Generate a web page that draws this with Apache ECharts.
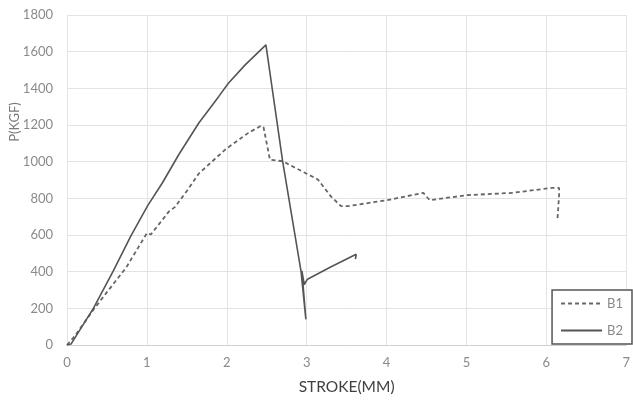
<!DOCTYPE html>
<html>
<head>
<meta charset="utf-8">
<script src="https://cdn.jsdelivr.net/npm/echarts@6/dist/echarts.min.js"></script>
<style>
  html, body { margin: 0; padding: 0; background: #ffffff; }
  #chart { width: 633px; height: 400px; }
</style>
</head>
<body>
<div id="chart"></div>
<script>
// Load-stroke curves for two specimens: [stroke (mm), load (kgf)]
const seriesNames = ['B1', 'B2'];

const b1Points = [
  [0, 0], [0.1, 50], [0.33, 192], [0.53, 305], [0.74, 422], [1.0, 610],
  [1.05, 603], [1.28, 730], [1.35, 752], [1.5, 840], [1.65, 935],
  [1.98, 1066], [2.27, 1157], [2.43, 1196], [2.46, 1188], [2.54, 1011],
  [2.70, 1002], [3.14, 903], [3.30, 812], [3.43, 757], [3.51, 757],
  [3.84, 779], [4.01, 790], [4.46, 830], [4.54, 790], [5.0, 817],
  [5.58, 830], [6.07, 857], [6.16, 857], [6.16, 821], [6.14, 689]
];

const b2Points = [
  [0, 0], [0.05, 5], [0.33, 200], [0.575, 400], [0.80, 595], [1.01, 760],
  [1.195, 885], [1.40, 1039], [1.65, 1211], [1.90, 1356], [2.02, 1428],
  [2.23, 1528], [2.49, 1637], [2.70, 1000], [2.93, 400], [2.99, 140],
  [2.94, 404], [2.97, 330], [3.01, 359], [3.30, 425], [3.62, 495],
  [3.61, 468]
];

const xTicks = { min: 0, max: 7, step: 1 };
const yTicks = { min: 0, max: 1800, step: 200 };

const xTitle = 'STROKE(MM)';
const yTitle = 'P(KGF)';

const chart = echarts.init(document.getElementById('chart'), null, { renderer: 'canvas' });

const labelStyle = { color: '#8a8a8a', fontSize: 13, fontFamily: 'Lato' };
const gridLine = { show: true, lineStyle: { color: '#e3e3e3', width: 1 } };

chart.setOption({
  animation: false,
  backgroundColor: '#ffffff',
  textStyle: { fontFamily: 'Lato' },
  grid: { left: 67, right: 2, top: 15, bottom: 54, containLabel: false },
  xAxis: {
    type: 'value',
    min: xTicks.min, max: xTicks.max, interval: xTicks.step,
    name: xTitle,
    nameLocation: 'middle',
    nameGap: 34,
    nameTextStyle: { color: '#404040', fontSize: 15.5, fontFamily: 'Lato' },
    axisLine: { show: true, lineStyle: { color: '#d0d0d0', width: 1 } },
    axisTick: { show: false },
    axisLabel: Object.assign({ margin: 11, formatter: v => String(v) }, labelStyle),
    splitLine: gridLine
  },
  yAxis: {
    type: 'value',
    min: yTicks.min, max: yTicks.max, interval: yTicks.step,
    axisLine: { show: false },
    axisTick: { show: false },
    axisLabel: Object.assign({ margin: 14, formatter: v => String(v) }, labelStyle),
    splitLine: gridLine
  },
  graphic: [{
    type: 'text',
    x: 15,
    y: 122,
    rotation: Math.PI / 2,
    style: {
      text: yTitle,
      fill: '#7a7a7a',
      font: '13px Lato',
      align: 'center',
      verticalAlign: 'middle'
    }
  }],
  legend: {
    orient: 'vertical',
    right: 1,
    bottom: 56,
    padding: [7, 9, 7, 8],
    itemWidth: 41,
    itemHeight: 14,
    itemGap: 14,
    borderColor: '#555555',
    borderWidth: 1.5,
    backgroundColor: '#ffffff',
    itemStyle: { opacity: 0 },
    textStyle: { color: '#8a8a8a', fontSize: 13, fontFamily: 'Lato' },
    data: seriesNames
  },
  series: [
    {
      name: seriesNames[0],
      type: 'line',
      data: b1Points,
      symbol: 'none',
      showSymbol: false,
      lineStyle: { color: '#666666', width: 1.8, type: [4, 3] },
      itemStyle: { color: '#666666' },
      z: 2
    },
    {
      name: seriesNames[1],
      type: 'line',
      data: b2Points,
      symbol: 'none',
      showSymbol: false,
      lineStyle: { color: '#555555', width: 1.6, type: 'solid' },
      itemStyle: { color: '#555555' },
      z: 3
    }
  ]
});
</script>
</body>
</html>
